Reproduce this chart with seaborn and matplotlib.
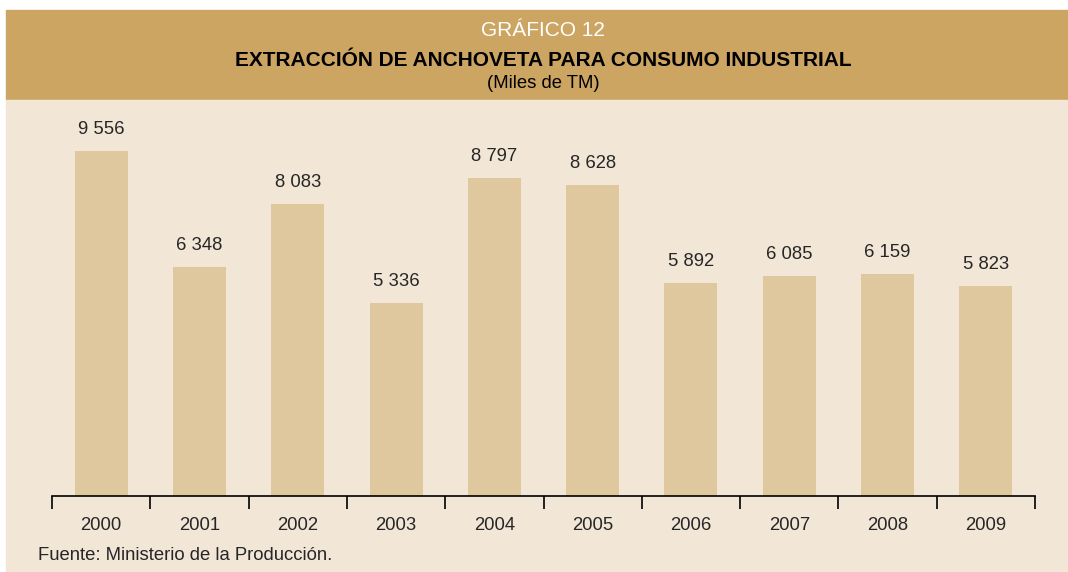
import numpy as np
import pandas as pd
import matplotlib
matplotlib.use("Agg")
import matplotlib.pyplot as plt
import seaborn as sns
from matplotlib.patches import Rectangle

# Data
years = ["2000", "2001", "2002", "2003", "2004", "2005", "2006", "2007", "2008", "2009"]
values = [9556, 6348, 8083, 5336, 8797, 8628, 5892, 6085, 6159, 5823]

header_col = "#CDA562"
panel_col = "#F2E6D7"
bar_col = "#E0C89E"

df = pd.DataFrame({"year": years, "value": values})

sns.set_style("white")
plt.rcParams["font.family"] = ["Liberation Sans", "DejaVu Sans"]

W, H = 1068, 572
fig = plt.figure(figsize=(W / 100, H / 100), dpi=100)
fig.patch.set_facecolor("white")

# header band and panel background (behind the axes)
fig.patches.append(Rectangle((6 / W, 1 - 100 / H), 1 - 6 / W, 90 / H,
                             transform=fig.transFigure, color=header_col, zorder=-10))
fig.patches.append(Rectangle((6 / W, 0), 1 - 6 / W, 1 - 100 / H,
                             transform=fig.transFigure, color=panel_col, zorder=-10))

fig.text(543 / W, 1 - 30 / H, "GRÁFICO 12", color="white", fontsize=15,
         ha="center", va="center")
fig.text(543 / W, 1 - 60 / H, "EXTRACCIÓN DE ANCHOVETA PARA CONSUMO INDUSTRIAL",
         color="black", fontsize=15, fontweight="bold", ha="center", va="center")
fig.text(543 / W, 1 - 84 / H, "(Miles de TM)", color="black", fontsize=13.3,
         ha="center", va="center")

ax = fig.add_axes([52 / W, 1 - 496 / H, (1035 - 52) / W, 396 / H])
ax.set_zorder(1)
ax.set_facecolor("none")
sns.barplot(data=df, x="year", y="value", color=bar_col, width=0.54,
            saturation=1, linewidth=0, ax=ax)
ax.set_xlim(-0.5, len(years) - 0.5)
ax.set_ylim(0, 10970)

for i, v in enumerate(values):
    lbl = f"{v:,}".replace(",", " ")
    ax.text(i, v + 360, lbl, ha="center", va="bottom", fontsize=13.3)

for s in ["top", "right", "left"]:
    ax.spines[s].set_visible(False)
ax.spines["bottom"].set_color("black")
ax.spines["bottom"].set_linewidth(1.2)
ax.set_yticks([])
ax.set_xticks(np.arange(-0.5, len(years), 1), minor=False)
ax.set_xticklabels([])
ax.tick_params(axis="x", which="major", direction="out", length=9, width=1.2,
               color="black", bottom=True)
ax.set_xticks(np.arange(len(years)), minor=True)
ax.set_xticklabels(years, minor=True, fontsize=13.3)
ax.tick_params(axis="x", which="minor", length=0, pad=15)
ax.set_xlabel("")
ax.set_ylabel("")

fig.text(38 / W, 1 - 556 / H, "Fuente: Ministerio de la Producción.",
         fontsize=13.3, ha="left", va="center")

fig.savefig("out.png", dpi=100)
